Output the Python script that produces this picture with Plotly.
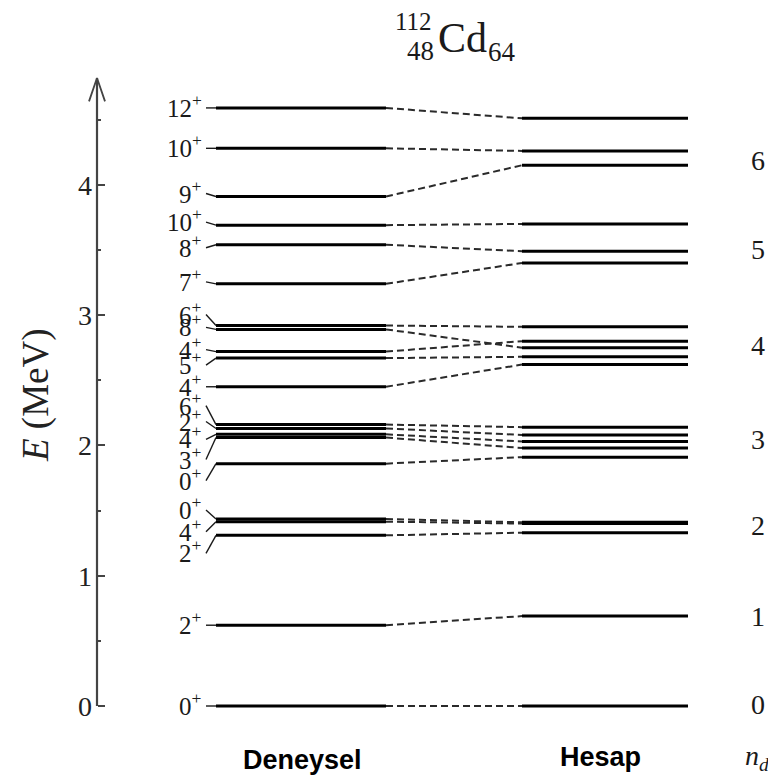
import plotly.graph_objects as go

# ---------------- data ----------------
exp_spin = ["0", "2", "2", "4", "0", "0", "3", "4", "2", "6", "4",
            "5", "4", "8", "6", "7", "8", "10", "9", "10", "12"]
exp_energy = [0.00, 0.62, 1.31, 1.415, 1.435, 1.86, 2.06, 2.085, 2.13, 2.16, 2.45,
              2.67, 2.72, 2.89, 2.92, 3.24, 3.54, 3.69, 3.91, 4.28, 4.59]
calc_energy = [0.00, 0.69, 1.33, 1.40, 1.41, 1.91, 1.98, 2.03, 2.08, 2.14, 2.62,
               2.68, 2.80, 2.75, 2.91, 3.40, 3.49, 3.70, 4.15, 4.26, 4.51]
nd_labels = ["0", "1", "2", "3", "4", "5", "6"]
nd_energy = [0.00, 0.67, 1.37, 2.03, 2.75, 3.49, 4.17]
axis_ticks = [0, 1, 2, 3, 4]
axis_minor = [0.5, 1.5, 2.5, 3.5, 4.5]
axis_top = 4.82

# ---------------- layout constants (pixels of the page) ----------------
PAGE_OFF = 8                      # browser body margin
W, H = 776 - PAGE_OFF, 783 - PAGE_OFF
PX_PER_MEV = 130.3
Y0_PX = 706.0                     # page row of E = 0
Y_TOP = (Y0_PX - PAGE_OFF) / PX_PER_MEV
Y_BOT = -(783 - Y0_PX) / PX_PER_MEV
AXIS_X = 97
EXP_X0, EXP_X1 = 216, 386
CAL_X0, CAL_X1 = 522, 688
LABEL_X = 204
# vertical offsets (px, down positive) of the spin labels from their level
label_shift_px = [0, 0, 18, 10, -9, 17, 22, 5, -7, -19, 0,
                  7, -2, -2, -11, -2, 3, -3, -3, 0, 0]

SERIF = "Liberation Serif"
SANS = "Liberation Sans"
INK = "#1a1a1a"


def py(px):
    """page pixel row -> energy coordinate"""
    return (Y0_PX - px) / PX_PER_MEV


fig = go.Figure()

# experimental levels
xs, ys = [], []
for e in exp_energy:
    xs += [EXP_X0, EXP_X1, None]
    ys += [e, e, None]
fig.add_trace(go.Scatter(x=xs, y=ys, mode="lines", line=dict(color="black", width=3),
                         hoverinfo="skip"))

# calculated levels
xs, ys = [], []
for e in calc_energy:
    xs += [CAL_X0, CAL_X1, None]
    ys += [e, e, None]
fig.add_trace(go.Scatter(x=xs, y=ys, mode="lines", line=dict(color="black", width=3),
                         hoverinfo="skip"))

# dashed correspondences
for ee, ec in zip(exp_energy, calc_energy):
    fig.add_trace(go.Scatter(x=[EXP_X1, CAL_X0], y=[ee, ec], mode="lines",
                             line=dict(color="#2a2a2a", width=2, dash="7px,4px"),
                             hoverinfo="skip"))

# label connectors
xs, ys = [], []
for e, s in zip(exp_energy, label_shift_px):
    xs += [LABEL_X + 2, EXP_X0, None]
    ys += [e - s / PX_PER_MEV, e, None]
fig.add_trace(go.Scatter(x=xs, y=ys, mode="lines", line=dict(color=INK, width=1.4),
                         hoverinfo="skip"))

# energy axis line with open arrow head
fig.add_trace(go.Scatter(x=[AXIS_X, AXIS_X], y=[0, axis_top], mode="lines",
                         line=dict(color="#444444", width=2.2), hoverinfo="skip"))
fig.add_trace(go.Scatter(x=[AXIS_X - 8, AXIS_X, AXIS_X + 8],
                         y=[axis_top - 0.18, axis_top, axis_top - 0.18], mode="lines",
                         line=dict(color="#444444", width=1.8), hoverinfo="skip"))

annotations = []
# spin labels
for e, s, j in zip(exp_energy, label_shift_px, exp_spin):
    annotations.append(dict(x=LABEL_X, y=e - s / PX_PER_MEV + 0.015, xref="x", yref="y",
                            text=f"{j}<sup>+</sup>", showarrow=False, xanchor="right",
                            yanchor="middle", font=dict(family=SERIF, size=25, color=INK)))
# n_d labels
for lab, e in zip(nd_labels, nd_energy):
    annotations.append(dict(x=758, y=e + 0.015, xref="x", yref="y", text=lab, showarrow=False,
                            xanchor="center", yanchor="middle",
                            font=dict(family=SERIF, size=28, color=INK)))

annotations += [
    dict(x=757, y=py(757), xref="x", yref="y", text="<i>n</i><sub><i>d</i></sub>",
         showarrow=False, xanchor="center", yanchor="middle",
         font=dict(family=SERIF, size=28, color=INK)),
    dict(x=302, y=py(760), xref="x", yref="y", text="<b>Deneysel</b>", showarrow=False,
         xanchor="center", yanchor="middle", font=dict(family=SANS, size=27, color="black")),
    dict(x=600, y=py(757), xref="x", yref="y", text="<b>Hesap</b>", showarrow=False,
         xanchor="center", yanchor="middle", font=dict(family=SANS, size=27, color="black")),
    dict(x=36, y=py(395), xref="x", yref="y", text="<i>E</i> (MeV)", showarrow=False,
         textangle=-90, xanchor="center", yanchor="middle",
         font=dict(family=SERIF, size=37, color="#222222")),
    # nuclide symbol
    dict(x=434, y=py(21), xref="x", yref="y", text="112", showarrow=False,
         xanchor="right", yanchor="middle", font=dict(family=SERIF, size=25, color=INK)),
    dict(x=436, y=py(51), xref="x", yref="y", text="48", showarrow=False,
         xanchor="right", yanchor="middle", font=dict(family=SERIF, size=27, color=INK)),
    dict(x=436, y=py(38), xref="x", yref="y", text="Cd", showarrow=False,
         xanchor="left", yanchor="middle", font=dict(family=SERIF, size=42, color=INK)),
    dict(x=486, y=py(52), xref="x", yref="y", text="64", showarrow=False,
         xanchor="left", yanchor="middle", font=dict(family=SERIF, size=27, color=INK)),
]

fig.update_layout(
    width=W, height=H,
    margin=dict(l=0, r=0, t=0, b=0),
    paper_bgcolor="white", plot_bgcolor="white",
    showlegend=False, hovermode=False,
    annotations=annotations,
    xaxis=dict(range=[PAGE_OFF, 776], visible=False, fixedrange=True, domain=[0, 1]),
    yaxis=dict(range=[Y_BOT, Y_TOP], anchor="free", position=(AXIS_X - PAGE_OFF) / W,
               showline=False, showgrid=False, zeroline=False,
               tickmode="array", tickvals=axis_ticks, ticktext=[str(t) for t in axis_ticks],
               ticks="inside", ticklen=7, tickwidth=2, tickcolor="#444444",
               ticklabelstandoff=5,
               tickfont=dict(family=SERIF, size=28, color="#222222"),
               minor=dict(tickmode="array", tickvals=axis_minor, ticks="inside",
                          ticklen=3, tickwidth=2, tickcolor="#444444", showgrid=False),
               fixedrange=True),
)

fig.write_html("out.html")
